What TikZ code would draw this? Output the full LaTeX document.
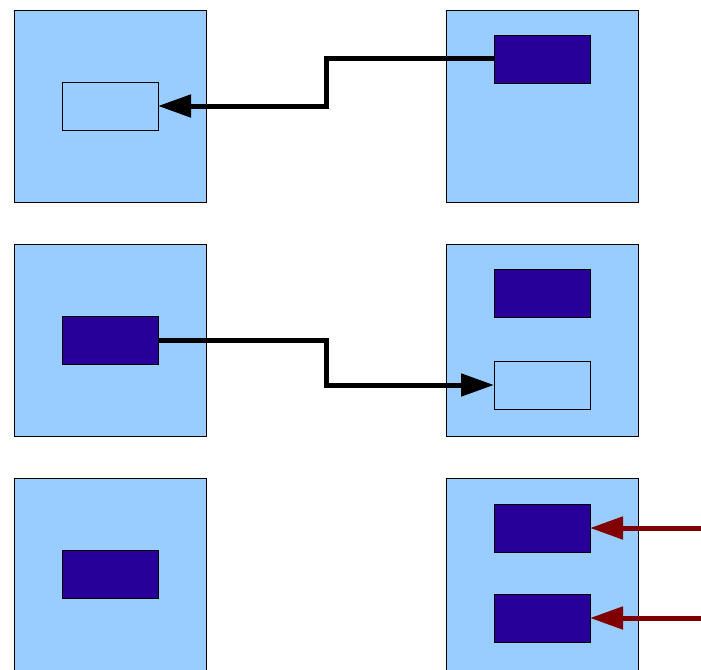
\documentclass[tikz,border=0pt]{standalone}
\usetikzlibrary{arrows.meta,calc}
\definecolor{boxblue}{RGB}{153,204,255}
\definecolor{slotdark}{RGB}{38,0,153}
\definecolor{ptrred}{RGB}{128,0,0}
\tikzset{
  frame/.style={draw=black,line width=0.8pt,fill=boxblue,minimum width=192pt,minimum height=192pt,inner sep=0pt,outer sep=0pt},
  slot/.style={draw=black,line width=0.8pt,minimum width=96pt,minimum height=48pt,inner sep=0pt,outer sep=0pt},
  full/.style={slot,fill=slotdark},
  empty/.style={slot,fill=boxblue},
  link/.style={line width=5pt,-{Triangle[length=33pt,width=22pt]}},
}
\begin{document}
\begin{tikzpicture}[x=1pt,y=1pt,yscale=-1]
    \useasboundingbox[fill=white] (0,0) rectangle (701,669);
    % frames
    \node[frame] (a1) at (110,106) {};
    \node[frame] (b1) at (542,106) {};
    \node[frame] (a2) at (110,340) {};
    \node[frame] (b2) at (542,340) {};
    \node[frame] (a3) at (110,574) {};
    \node[frame] (b3) at (542,574) {};
    % slots
    \node[empty] (a1s) at (110,106) {};
    \node[full] (b1s) at (542,59) {};
    \node[full] (a2s) at (110,340) {};
    \node[full] (b2s) at (542,293) {};
    \node[empty] (b2t) at (542,385) {};
    \node[full] (a3s) at (110,574) {};
    \node[full] (b3s) at (542,528) {};
    \node[full] (b3t) at (542,618) {};
    % pointers
    \draw[link] (b1s.west) -| ($(b1s.west)!.5!(a1s.east)$) |- (a1s.east);
    \draw[link] (a2s.east) -| ($(a2s.east)!.5!(b2t.west)$) |- (b2t.west);
    \coordinate (r1) at (702,528);
    \coordinate (r2) at (702,618);
    \draw[link,draw=ptrred,fill=ptrred] (r1) -- (b3s.east);
    \draw[link,draw=ptrred,fill=ptrred] (r2) -- (b3t.east);
\end{tikzpicture}
\end{document}
